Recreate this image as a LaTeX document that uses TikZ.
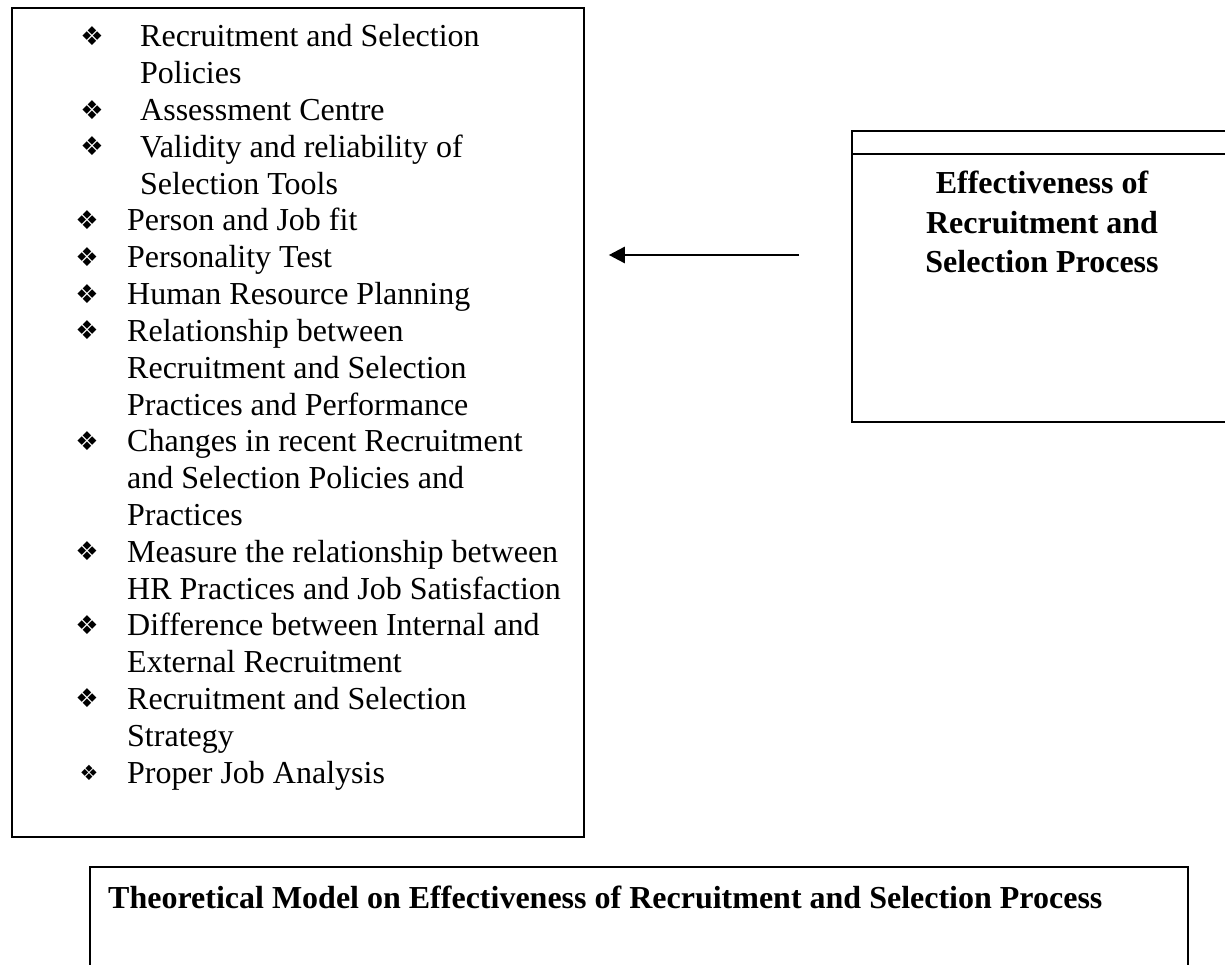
\documentclass[tikz,border=0pt]{standalone}
\usepackage{fontspec}
\setmainfont{Liberation Serif}
\newfontfamily\dejavu{DejaVu Sans}
\usetikzlibrary{arrows.meta}
\begin{document}
\begin{tikzpicture}[x=1pt,y=-1pt,
  box/.style={draw=black, line width=1.8pt, rectangle, inner sep=0pt},
  li/.style={anchor=base west, inner sep=0pt, font=\fontsize{32}{38}\selectfont},
  bul/.style={anchor=center, inner sep=0pt, font=\dejavu\fontsize{26}{28}\selectfont},
  smallbul/.style={anchor=center, inner sep=0pt, font=\dejavu\fontsize{21}{24}\selectfont},
  title/.style={font=\fontsize{32}{39.5}\selectfont\bfseries, align=center, inner sep=0pt},
  arr/.style={line width=2.6pt, -{Triangle[length=16pt,width=16pt]}}
]
\useasboundingbox (0,0) rectangle (1225,965);
\clip (0,0) rectangle (1225,965);
\fill[white] (0,0) rectangle (1225,965);

% left box with list
\node[box, anchor=north west, minimum width=572pt, minimum height=829pt] (lbox) at (11,7) {};
\foreach \k/\tx/\t [count=\i from 0] in {
  1/140/Recruitment and Selection,
  0/140/Policies,
  1/140/Assessment Centre,
  1/140/Validity and reliability of,
  0/140/Selection Tools,
  2/127/Person and Job fit,
  2/127/Personality Test,
  2/127/Human Resource Planning,
  2/127/Relationship between,
  0/127/Recruitment and Selection,
  0/127/Practices and Performance,
  2/127/Changes in recent Recruitment,
  0/127/and Selection Policies and,
  0/127/Practices,
  2/127/Measure the relationship between,
  0/127/HR Practices and Job Satisfaction,
  2/127/Difference between Internal and,
  0/127/External Recruitment,
  2/127/Recruitment and Selection,
  0/127/Strategy,
  3/127/Proper Job Analysis}
{
  \pgfmathsetmacro\yb{47+36.8*\i}
  \node[li] (t\i) at (\tx,\yb) {\t};
  \ifnum\k=1 \node[bul] (b\i) at (92,\yb-11) {❖}; \fi
  \ifnum\k=2 \node[bul] (b\i) at (87,\yb-11) {❖}; \fi
  \ifnum\k=3 \node[smallbul] (b\i) at (89,\yb-10) {❖}; \fi
}

% right box
\node[box, anchor=north west, minimum width=400pt, minimum height=291pt] (rbox) at (851,130) {};
\draw[line width=1.8pt] ([yshift=-24pt]rbox.north west) -- ([yshift=-24pt]rbox.north east);
\node[title] (rtitle) at (1042,222) {Effectiveness of\\Recruitment and\\Selection Process};

% arrow
\coordinate (ay) at (0,255);
\draw[arr, shorten <=52pt, shorten >=24pt] (rbox.west |- ay) -- (lbox.east |- ay);

% bottom box
\node[box, anchor=north west, minimum width=1098pt, minimum height=160pt] (bbox) at (89,866) {};
\node[title, anchor=west] (btitle) at (108,897) {Theoretical Model on Effectiveness of Recruitment and Selection Process};
\end{tikzpicture}
\end{document}
